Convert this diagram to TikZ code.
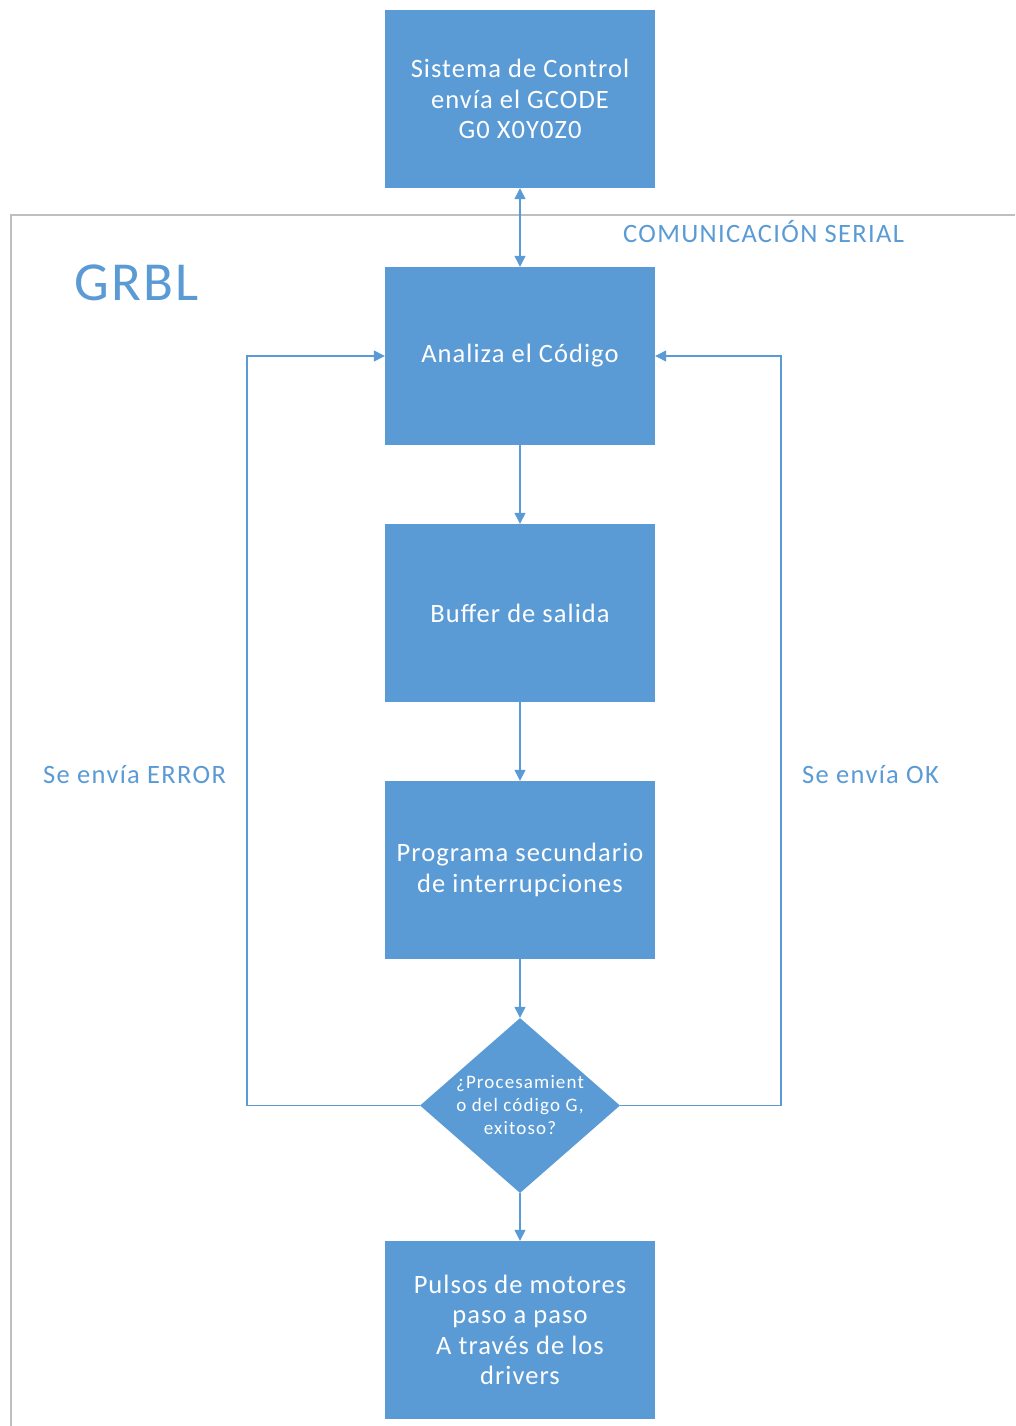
\documentclass[tikz,border=0pt]{standalone}
\usepackage{fontspec}
\setmainfont{Carlito}[LetterSpace=4]
\usetikzlibrary{shapes.geometric,arrows.meta}
\definecolor{flowblue}{HTML}{5B9BD5}
\definecolor{framegray}{HTML}{BFBFBF}
\begin{document}
\begin{tikzpicture}[x=1pt,y=-1pt,
  procbox/.style={draw=none,fill=flowblue,text=white,minimum width=270pt,minimum height=178pt,
    align=center,font=\fontsize{26.5}{30.5}\selectfont,inner sep=0pt},
  decision/.style={diamond,fill=flowblue,minimum width=200pt,minimum height=175pt,inner sep=0pt},
  decisiontext/.style={text=white,align=center,inner sep=0pt,
    font=\fontsize{19}{23}\selectfont\addfontfeatures{LetterSpace=6}},
  flow/.style={draw=flowblue,line width=1.3pt,-{Triangle[length=11pt,width=11pt]}},
  label/.style={text=flowblue,font=\fontsize{26.5}{30}\selectfont\addfontfeatures{LetterSpace=5},inner sep=0pt}]
\useasboundingbox (0,0) rectangle (1015,1426);
\fill[white] (0,0) rectangle (1015,1426);
% GRBL frame
\draw[framegray,line width=1.5pt] (1015,215) -- (11,215) -- (11,1426);
% process boxes
\node[procbox] (sys) at (520,99) {Sistema de Control\\envía el GCODE\\G0 X0Y0Z0};
\node[procbox] (ana) at (520,356) {Analiza el Código};
\node[procbox] (buf) at (520,613) {Buffer de salida};
\node[procbox] (isr) at (520,870) {Programa secundario\\de interrupciones};
\node[decision] (dec) at (520,1105.5) {};
\node[decisiontext] (dectext) at (dec.center) {¿Procesamient\\o del código G,\\exitoso?};
\node[procbox] (mot) at (520,1330) {Pulsos de motores\\paso a paso\\A través de los\\drivers};
% texts
\node[label,font=\fontsize{55}{60}\selectfont,anchor=west] (grbl) at (74,283) {GRBL};
\node[label,anchor=west] (com) at (623,232) {COMUNICACIÓN SERIAL};
\node[label,anchor=west] (err) at (43,775) {Se envía ERROR};
\node[label,anchor=west] (ok) at (802,775) {Se envía OK};
% connectors
\draw[flow,{Triangle[length=11pt,width=11pt]}-{Triangle[length=11pt,width=11pt]}] (sys.south) -- (ana.north);
\draw[flow] (ana) -- (buf);
\draw[flow] (buf) -- (isr);
\draw[flow] (isr) -- (dec);
\draw[flow] (dec) -- (mot);
\draw[flow] (dec.west) -- (247,1105.5) |- (ana.west);
\draw[flow] (dec.east) -- (781,1105.5) |- (ana.east);
\end{tikzpicture}
\end{document}
